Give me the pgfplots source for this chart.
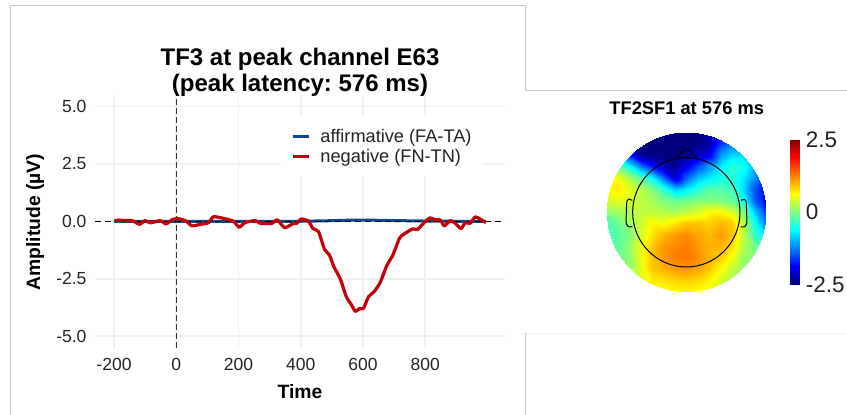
\documentclass[border=0pt]{standalone}
\usepackage{pgfplots}
\pgfplotsset{compat=1.18}
\usepackage{fontspec}
\setmainfont{Liberation Sans}
\definecolor{gridc}{HTML}{F0F0F0}
\definecolor{framec}{HTML}{C6C6C6}
\definecolor{bl}{HTML}{0B4A8F}
\definecolor{rd}{HTML}{C4000A}
\definecolor{txt}{HTML}{222222}
\definecolor{vdash}{HTML}{333333}
\begin{document}
\frenchspacing
\begin{tikzpicture}[x=1pt,y=1pt]
\path[use as bounding box] (0,0) rectangle (847,415);
% panel frames
\draw[framec,line width=1pt] (10.5,0) -- (10.5,409) -- (525.5,409) -- (525.5,324) -- (847,324);
\draw[framec,line width=1pt] (525.5,82) -- (525.5,0);
\draw[gridc,line width=0.8pt] (525.5,82) -- (847,82);
\begin{axis}[
  at={(95pt,67pt)},anchor=south west,scale only axis,width=410pt,height=253pt,
  xmin=-261,xmax=1056,ymin=-5.52,ymax=5.5,
  axis line style={draw=none},
  tick style={draw=none},
  grid=major,
  major grid style={gridc,line width=1.7pt},
  xtick={-200,0,200,400,600,800},
  xticklabels={-200,0,200,400,600,800},
  ytick={-5,-2.5,0,2.5,5},
  yticklabels={-5.0,-2.5,0.0,2.5,5.0},
  tick label style={font=\fontsize{17.5}{20}\selectfont,text=txt},
  xticklabel style={yshift=-7pt},
  yticklabel style={xshift=-5pt},
  title={TF3 at peak channel E63\\(peak latency: 576 ms)},
  title style={at={(axis description cs:0.5,1.067)},anchor=center,align=center,font=\fontsize{24}{26}\selectfont\bfseries},
  xlabel={Time},
  xlabel style={at={(axis description cs:0.5,-0.174)},anchor=center,font=\fontsize{19.3}{22}\selectfont\bfseries},
  ylabel={Amplitude (µV)},
  ylabel style={at={(axis description cs:-0.1463,0.498)},anchor=center,font=\fontsize{19.3}{22}\selectfont\bfseries},
  legend style={at={(rel axis cs:0.48,0.875)},anchor=north west,draw=none,fill=none,inner sep=0pt,
    font=\fontsize{18.2}{20}\selectfont,text=txt,row sep=2pt},
  legend cell align=left,
  legend image code/.code={\draw[#1,line width=3pt] (0,0) -- (16pt,0);\path[draw=none] (0,0) -- (25pt,0);},
  line join=round,
]
\fill[white] (axis cs:337,1.973) rectangle (axis cs:985.5,4.586);
\addplot[bl,line width=3pt] coordinates {(-199,0)(-100,0)(0,0)(100,0)(200,0)(300,0)(400,0)(480,0.02)(560,0.05)(620,0.05)(700,0.03)(800,0.01)(900,0)(995,0)};
\addlegendentry{affirmative (FA-TA)}
\addplot[forget plot,black,line width=1.5pt,dash pattern=on 6pt off 4pt] coordinates {(-261,0)(1056,0)};
\addplot[forget plot,vdash,line width=1.5pt,dash pattern=on 5.5pt off 3.5pt] coordinates {(0,-5.52)(0,5.5)};
\addplot[rd,line width=3.2pt,smooth,tension=0.35] coordinates {
(-199,0)(-185,0.06)(-169,0.03)(-142,0.03)(-118,-0.13)(-100,0.03)(-83,-0.07)(-51,0.03)(-33,-0.12)(-14,0.06)(2,0.12)(29,0.03)(50,-0.2)(72,-0.15)(104,-0.06)(120,0.2)(163,0.09)(184,0)(202,-0.26)(221,-0.06)(254,0.03)(270,-0.09)(307,-0.09)(325,0.06)(348,-0.28)(377,-0.09)(387,-0.09)(402,0.1)(425,0)(439,-0.32)(457,-0.45)(476,-1.22)(492,-1.47)(507,-2.0)(527,-2.51)(546,-3.28)(561,-3.6)(575,-3.92)(589,-3.8)(601,-3.8)(618,-3.28)(636,-3.06)(655,-2.67)(676,-1.94)(696,-1.47)(717,-0.74)(732,-0.55)(760,-0.33)(775,-0.36)(794,-0.09)(815,0.15)(831,0.06)(848,0.06)(861,-0.2)(880,0.03)(896,-0.09)(915,-0.32)(928,-0.06)(944,-0.09)(960,0.19)(976,0.1)(995,-0.06)};
\addlegendentry{negative (FN-TN)}
\end{axis}
% topomap
\begin{scope}
\clip (686.3,203) circle (79.7);
\begin{axis}[
  at={(606.3pt,123pt)},anchor=south west,scale only axis,width=160pt,height=160pt,
  xmin=0,xmax=14,ymin=-14,ymax=0,hide axis,view={0}{90},
  colormap/jet,point meta min=-2.5,point meta max=2.5,
]
\addplot3[surf,shader=interp,mesh/cols=15,mesh/ordering=x varies,point meta=z]
 table[header=false,row sep=\\,x expr={mod(\coordindex,15)},y expr={-floor(\coordindex/15)},z index=0] {
-2.6\\-2.6\\-2.6\\-2.6\\-2.6\\-2.6\\-2.6\\-2.6\\-2.5\\-2.2\\-2.0\\-1.9\\-1.8\\-1.8\\-1.8\\
-1.5\\-1.8\\-2.2\\-2.5\\-2.6\\-2.6\\-2.6\\-2.6\\-2.6\\-2.3\\-1.6\\-1.3\\-1.3\\-1.4\\-1.5\\
-0.5\\-0.9\\-1.7\\-2.4\\-2.6\\-2.6\\-2.6\\-2.5\\-2.2\\-2.0\\-1.1\\-0.8\\-0.8\\-1.1\\-1.3\\
0.2\\-0.1\\-0.6\\-1.3\\-1.8\\-2.2\\-2.4\\-2.0\\-1.5\\-1.1\\-0.7\\-0.4\\-0.5\\-1.0\\-1.4\\
0.6\\0.6\\0.2\\-0.2\\-0.6\\-1.3\\-2.1\\-1.4\\-0.9\\-0.7\\-0.5\\-0.4\\-0.7\\-1.2\\-1.6\\
0.6\\0.72\\0.5\\0.25\\0\\-0.4\\-0.9\\-0.7\\-0.4\\-0.2\\-0.2\\-0.3\\-0.8\\-1.5\\-1.9\\
0.4\\0.5\\0.4\\0.3\\0.2\\0\\-0.1\\-0.05\\0.05\\0.05\\0\\-0.1\\-0.5\\-1.4\\-1.9\\
0.1\\0.15\\0.2\\0.3\\0.3\\0.25\\0.2\\0.3\\0.45\\0.65\\0.65\\0.45\\0\\-0.9\\-1.6\\
-0.2\\-0.1\\0.1\\0.4\\0.65\\0.6\\0.75\\0.93\\0.93\\0.85\\0.97\\0.88\\0.3\\-0.6\\-1.3\\
-0.3\\-0.2\\0\\0.4\\0.75\\0.97\\1.13\\1.22\\1.06\\0.97\\1.13\\0.93\\0.3\\-0.4\\-0.8\\
-0.3\\-0.15\\0.1\\0.55\\0.9\\1.13\\1.22\\1.26\\1.13\\1.0\\1.0\\0.8\\0.25\\-0.1\\-0.3\\
-0.3\\-0.1\\0.05\\0.55\\0.93\\1.13\\1.26\\1.29\\1.19\\1.0\\0.85\\0.55\\0.1\\0\\0\\
-0.2\\0\\0.1\\0.5\\0.9\\1.0\\1.1\\1.13\\1.05\\0.9\\0.6\\0.3\\0.1\\0\\0\\
0\\0\\0.2\\0.5\\0.7\\0.75\\0.82\\0.85\\0.8\\0.68\\0.4\\0.2\\0.1\\0\\0\\
0\\0\\0.2\\0.45\\0.55\\0.6\\0.62\\0.62\\0.6\\0.5\\0.35\\0.2\\0.1\\0\\0\\
};
\end{axis}
\end{scope}
% head outline
\begin{scope}[shift={(600pt,290pt)},x=0.3333pt,y=-0.3333pt,black,line width=1pt,line join=round]
\draw (259,262) circle[x radius=161,y radius=164];
\draw (232,98) -- (250,76) .. controls (256,71) and (263,71) .. (269,76) -- (290,98);
\draw (97,226) -- (86,222) .. controls (81,224) and (80,230) .. (80,236) -- (78,290) .. controls (79,302) and (84,308) .. (97,305);
\draw (423,226) -- (433,223) .. controls (438,225) and (439,230) .. (439,236) -- (441,290) .. controls (440,302) and (435,308) .. (422,306);
\end{scope}
\node[font=\fontsize{18.3}{20}\selectfont\bfseries,text=black] at (686.7,307) {TF2SF1 at 576 ms};
% colour bar
\begin{axis}[
  at={(790pt,130.7pt)},anchor=south west,scale only axis,width=9.3pt,height=145pt,
  xmin=0,xmax=1,ymin=-2.5,ymax=2.5,view={0}{90},
  colormap/jet,point meta min=-2.5,point meta max=2.5,
  axis line style={draw=none},
  tick style={draw=none},
  xtick=\empty,ytick={-2.5,0,2.5},yticklabels={-2.5,0,2.5},
  yticklabel pos=right,
  yticklabel style={xshift=3pt},
  tick label style={font=\fontsize{22.5}{24}\selectfont,text=txt},
]
\addplot3[surf,shader=interp,mesh/cols=2,mesh/ordering=x varies,point meta=y] coordinates {
(0,-2.5,0)(1,-2.5,0)
(0,-1.875,0)(1,-1.875,0)
(0,-0.625,0)(1,-0.625,0)
(0,0.625,0)(1,0.625,0)
(0,1.875,0)(1,1.875,0)
(0,2.5,0)(1,2.5,0)};
\end{axis}
\end{tikzpicture}
\end{document}
